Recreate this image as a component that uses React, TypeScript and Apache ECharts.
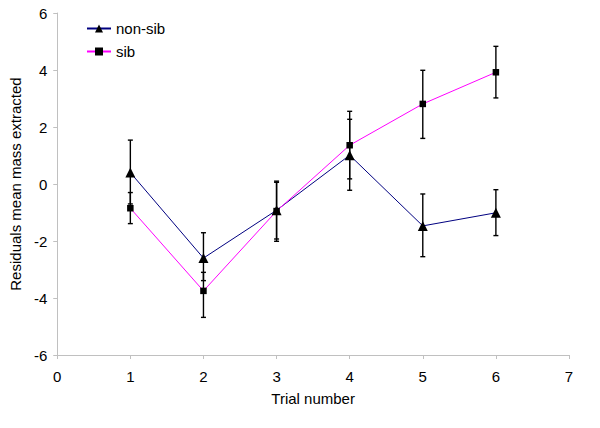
import React, { useEffect, useRef } from "react";
import * as echarts from "echarts";

const trials = [1, 2, 3, 4, 5, 6];
const nonSib = [0.40, -2.60, -0.92, 1.01, -1.47, -1.01];
const nonSibHigh = [1.54, -1.71, 0.10, 2.27, -0.35, -0.20];
const nonSibLow = [-0.70, -3.39, -1.93, -0.22, -2.55, -1.81];
const sib = [-0.85, -3.75, -0.95, 1.36, 2.81, 3.92];
const sibHigh = [-0.30, -3.10, 0.06, 2.55, 3.99, 4.83];
const sibLow = [-1.39, -4.68, -2.01, 0.18, 1.60, 3.02];

const FONT = "Liberation Sans, Arial, sans-serif";

function errorSeries(name: string, high: number[], low: number[]) {
  return {
    type: "custom",
    name: name + "-err",
    silent: true,
    z: 1,
    data: trials.map((t, i) => [t, low[i], high[i]]),
    renderItem: (params: any, api: any) => {
      const x = api.value(0);
      const lo = api.coord([x, api.value(1)]);
      const hi = api.coord([x, api.value(2)]);
      const cw = 2.5;
      const style = { stroke: "#000", lineWidth: 1.4 };
      return {
        type: "group",
        children: [
          { type: "line", shape: { x1: lo[0], y1: lo[1], x2: hi[0], y2: hi[1] }, style },
          { type: "line", shape: { x1: hi[0] - cw, y1: hi[1], x2: hi[0] + cw, y2: hi[1] }, style },
          { type: "line", shape: { x1: lo[0] - cw, y1: lo[1], x2: lo[0] + cw, y2: lo[1] }, style },
        ],
      };
    },
  };
}

export default function App() {
  const ref = useRef<HTMLDivElement>(null);
  useEffect(() => {
    const chart = echarts.init(ref.current!, undefined, { renderer: "svg" });
    const axisLine = { lineStyle: { color: "#c0c0c0", width: 1 } };
    chart.setOption({
      animation: false,
      backgroundColor: "#fff",
      grid: { left: 52.5, right: 31, top: 13, bottom: 73 },
      legend: {
        orient: "vertical",
        left: 86,
        top: 21,
        padding: 0,
        itemWidth: 24,
        itemHeight: 10,
        itemGap: 8,
        data: ["non-sib", "sib"],
        textStyle: { fontFamily: FONT, fontSize: 15, color: "#000" },
      },
      xAxis: {
        type: "value",
        min: 0,
        max: 7,
        interval: 1,
        name: "Trial number",
        nameLocation: "middle",
        nameGap: 36,
        nameTextStyle: { fontFamily: FONT, fontSize: 15, color: "#000" },
        axisLine: { ...axisLine, onZero: false },
        axisTick: { show: true, length: 4, lineStyle: { color: "#c0c0c0" } },
        axisLabel: { fontFamily: FONT, fontSize: 15, color: "#000", margin: 14 },
        splitLine: { show: false },
      },
      yAxis: {
        type: "value",
        min: -6,
        max: 6,
        interval: 2,
        name: "Residuals mean mass extracted",
        nameLocation: "middle",
        nameGap: 32,
        nameTextStyle: { fontFamily: FONT, fontSize: 15, color: "#000" },
        axisLine: { show: true, ...axisLine },
        axisTick: { show: true, length: 4, lineStyle: { color: "#c0c0c0" } },
        axisLabel: { fontFamily: FONT, fontSize: 15, color: "#000", margin: 10 },
        splitLine: { show: false },
      },
      series: [
        errorSeries("non-sib", nonSibHigh, nonSibLow),
        errorSeries("sib", sibHigh, sibLow),
        {
          type: "line",
          name: "non-sib",
          z: 3,
          data: trials.map((t, i) => [t, nonSib[i]]),
          symbol: "triangle",
          symbolSize: 10,
          showAllSymbol: true,
          lineStyle: { color: "#000080", width: 1 },
          itemStyle: { color: "#000", borderColor: "#000", borderWidth: 0 },
        },
        {
          type: "line",
          name: "sib",
          z: 3,
          data: trials.map((t, i) => [t, sib[i]]),
          symbol: "rect",
          symbolSize: 6.5,
          showAllSymbol: true,
          lineStyle: { color: "#ff00ff", width: 1 },
          itemStyle: { color: "#000", borderColor: "#000", borderWidth: 0 },
        },
      ],
    });
    return () => chart.dispose();
  }, []);
  return <div ref={ref} style={{ width: 600, height: 428, margin: -8 }} />;
}
